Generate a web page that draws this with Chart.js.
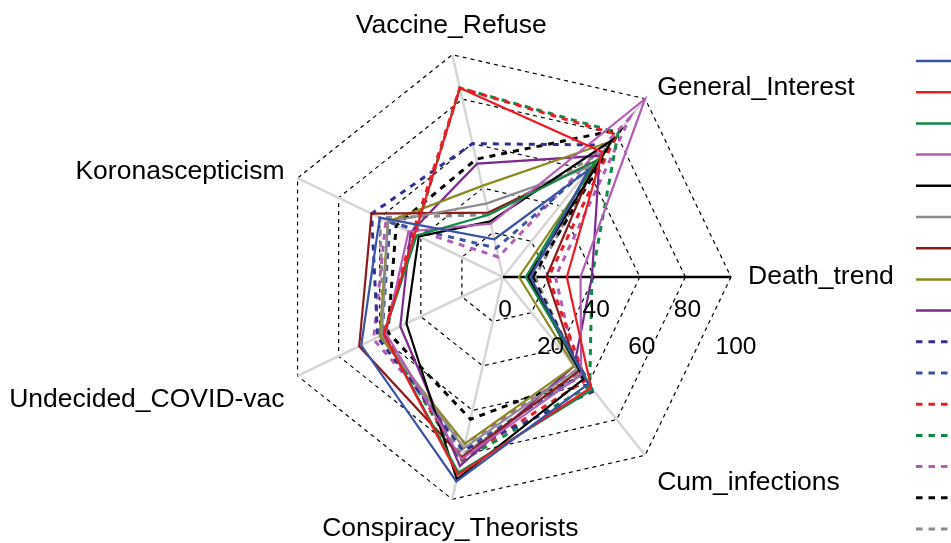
<!DOCTYPE html>
<html><head><meta charset="utf-8">
<script src="https://cdn.jsdelivr.net/npm/chart.js@4"></script>
<style>html,body{margin:0;padding:0;overflow:hidden;background:#fff}#wrap{width:951px;height:543px;position:relative}</style>
</head><body><div id="wrap"><canvas id="c" width="951" height="543"></canvas></div>
<script>
// clockwise from Death_trend (east)
const axisLabels = ['Death_trend','Cum_infections','Conspiracy_Theorists','Undecided_COVID-vac','Koronascepticism','Vaccine_Refuse','General_Interest'];
const tickValues = [0,20,40,60,80,100];
const seriesNames = ['Series 1','Series 2','Series 3','Series 4','Series 5','Series 6','Series 7','Series 8','Series 9','Series 10','Series 11','Series 12','Series 13','Series 14','Series 15','Series 16'];
const s01 = [12, 60, 92, 69, 60, 17, 60];
const s02 = [28, 62, 89, 58, 43, 85, 70];
const s03 = [10, 63, 88, 58, 42, 28, 65];
const s04 = [34, 55, 82, 57, 46, 24, 100];
const s05 = [11, 57, 91, 47, 41, 25, 77];
const s06 = [12, 52, 77, 59, 56, 33, 62];
const s07 = [19, 53, 81, 70, 64, 29, 65];
const s08 = [7, 50, 75, 60, 56, 41, 76];
const s09 = [39, 50, 85, 50, 45, 51, 68];
const s10 = [11, 64, 78, 61, 64, 60, 74];
const s11 = [12, 55, 78, 59, 55, 13, 63];
const s12 = [20, 58, 82, 58, 44, 85, 80];
const s13 = [39, 61, 83, 58, 43, 85, 81];
const s14 = [23, 52, 75, 63, 57, 9, 89];
const s15 = [13, 56, 64, 56, 52, 53, 83];
const s16 = [14, 54, 80, 58, 60, 28, 70];
const seriesValues = [s01,s02,s03,s04,s05,s06,s07,s08,s09,s10,s11,s12,s13,s14,s15,s16];

const colors = ['#3953a4','#ed1c24','#0f8a45','#b35db5','#000000','#8c8c8c','#8b1a1a','#8a8a21','#7b2a8e',
                '#2e3192','#3953a4','#ed1c24','#0f8a45','#b35db5','#000000','#8c8c8c'];
const dashedFrom = 9;

const datasets = seriesValues.map((v, i) => ({
  label: seriesNames[i],
  data: v,
  borderColor: colors[i],
  backgroundColor: colors[i],
  borderWidth: i >= dashedFrom ? 3 : 2.2,
  borderDash: i >= dashedFrom ? [6, 6] : [],
  fill: false,
  pointRadius: 0,
  pointHoverRadius: 0,
  tension: 0
}));

const FONT = '"Liberation Sans", Arial, sans-serif';

const textPlugin = {
  id: 'axisText',
  afterDraw(chart) {
    const sc = chart.scales.r;
    const ctx = chart.ctx;
    const R = sc.drawingArea;
    ctx.save();
    ctx.fillStyle = '#000';
    ctx.textBaseline = 'middle';
    ctx.font = '26.5px ' + FONT;
    const place = [[17,0,'left'],[12,27,'left'],[-2,29,'center'],[-13,24,'right'],[-13,-6,'right'],[-1,-29,'center'],[12,-11,'left']];
    axisLabels.forEach((lab, i) => {
      const p = sc.getPointPosition(i, R);
      ctx.textAlign = place[i][2];
      ctx.fillText(lab, p.x + place[i][0], p.y + place[i][1]);
    });
    ctx.font = '24.5px ' + FONT;
    ctx.textAlign = 'center';
    tickValues.forEach((t, k) => {
      const d = sc.getDistanceFromCenterForValue(t);
      const p = sc.getPointPosition(0, d);
      ctx.fillText(String(t), p.x + 2 + (t === 100 ? 3 : 0), p.y + (k % 2 === 0 ? 33 : 70));
    });
    // legend samples (labels fall outside the picture)
    datasets.forEach((ds, i) => {
      const y = 61 + i * 31.2;
      ctx.beginPath();
      ctx.strokeStyle = ds.borderColor;
      ctx.lineWidth = i >= dashedFrom ? 3 : 2.5;
      ctx.setLineDash(i >= dashedFrom ? [6.5, 6] : []);
      ctx.moveTo(916, y);
      ctx.lineTo(960, y);
      ctx.stroke();
    });
    ctx.restore();
  }
};

new Chart(document.getElementById('c'), {
  type: 'radar',
  data: { labels: axisLabels, datasets },
  options: {
    responsive: false,
    animation: false,
    layout: { padding: { top: 49, bottom: 38, left: 200, right: 145 } },
    plugins: { legend: { display: false }, tooltip: { enabled: false } },
    elements: { line: { tension: 0 } },
    scales: {
      r: {
        min: 0, max: 100, startAngle: 90,
        ticks: { display: false, stepSize: 20 },
        pointLabels: { display: false },
        grid: { color: '#000', lineWidth: 1.2, circular: false },
        border: { dash: [4, 4] },
        angleLines: { color: (c) => c.index === 0 ? '#000' : '#d6d6d6', lineWidth: 2.5 }
      }
    }
  },
  plugins: [textPlugin]
});
</script></body></html>
